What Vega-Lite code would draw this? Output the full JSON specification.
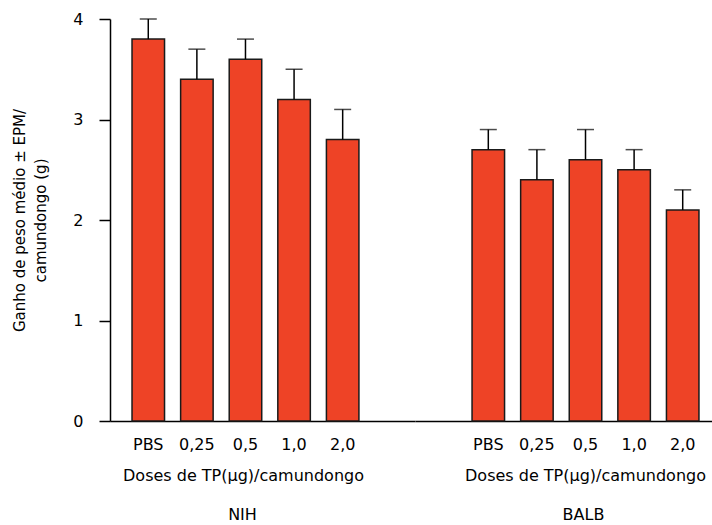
{
  "$schema": "https://vega.github.io/schema/vega-lite/v6.json",
  "background": "white",
  "padding": {"left": 12, "top": 11, "right": 0, "bottom": 0},
  "spacing": 0,
  "config": {
    "view": {"stroke": null},
    "font": "DejaVu Sans",
    "axis": {"labelFont": "DejaVu Sans", "titleFont": "DejaVu Sans", "labelColor": "#000", "titleColor": "#000", "domainColor": "#000", "tickColor": "#000", "grid": false, "titleFontWeight": "normal"},
    "title": {"font": "DejaVu Sans", "fontWeight": "normal", "color": "#000"}
  },
  "data": {"values": [
    {"group": "NIH", "dose": "PBS", "value": 3.8, "upper": 4.0},
    {"group": "NIH", "dose": "0,25", "value": 3.4, "upper": 3.7},
    {"group": "NIH", "dose": "0,5", "value": 3.6, "upper": 3.8},
    {"group": "NIH", "dose": "1,0", "value": 3.2, "upper": 3.5},
    {"group": "NIH", "dose": "2,0", "value": 2.8, "upper": 3.1},
    {"group": "BALB", "dose": "PBS", "value": 2.7, "upper": 2.9},
    {"group": "BALB", "dose": "0,25", "value": 2.4, "upper": 2.7},
    {"group": "BALB", "dose": "0,5", "value": 2.6, "upper": 2.9},
    {"group": "BALB", "dose": "1,0", "value": 2.5, "upper": 2.7},
    {"group": "BALB", "dose": "2,0", "value": 2.1, "upper": 2.3}
  ]},
  "resolve": {"scale": {"y": "independent", "x": "independent"}},
  "hconcat": [
    {
      "width": 305,
      "height": 402,
      "title": {"text": "NIH", "orient": "bottom", "fontSize": 16, "offset": 24, "dx": -20},
      "transform": [{"filter": "datum.group === 'NIH'"}],
      "encoding": {
        "x": {"field": "dose", "type": "nominal", "sort": ["PBS", "0,25", "0,5", "1,0", "2,0"],
          "scale": {"paddingInner": 0.331, "paddingOuter": 0.8035, "align": 0.282},
          "axis": {"title": "Doses de TP(µg)/camundongo", "titleX": 133, "labelAngle": 0, "ticks": false, "labelFontSize": 16, "titleFontSize": 16, "labelPadding": 15, "titlePadding": 15, "domainWidth": 1.5}}
      },
      "layer": [
        {"mark": {"type": "bar", "color": "#EE4326", "stroke": "#1a1a1a", "strokeWidth": 1.5},
         "encoding": {"y": {"field": "value", "type": "quantitative", "scale": {"domain": [0, 4]},
           "axis": {"title": ["Ganho de peso médio ± EPM/", "camundongo (g)"], "values": [0, 1, 2, 3, 4], "format": "d", "tickSize": 11, "tickWidth": 1.5, "domainWidth": 1.5, "labelFontSize": 16, "titleFontSize": 15, "titleLineHeight": 21, "labelPadding": 16, "titlePadding": 24}}}},
        {"mark": {"type": "rule", "color": "#000", "strokeWidth": 1.5},
         "encoding": {"y": {"field": "value", "type": "quantitative", "scale": {"domain": [0, 4]}}, "y2": {"field": "upper"}}},
        {"mark": {"type": "tick", "color": "#000", "thickness": 1.5, "size": 17},
         "encoding": {"y": {"field": "upper", "type": "quantitative", "scale": {"domain": [0, 4]}}}}
      ]
    },
    {
      "width": 297,
      "height": 402,
      "title": {"text": "BALB", "orient": "bottom", "fontSize": 16, "offset": 24, "dx": 20},
      "transform": [{"filter": "datum.group === 'BALB'"}],
      "encoding": {
        "x": {"field": "dose", "type": "nominal", "sort": ["PBS", "0,25", "0,5", "1,0", "2,0"],
          "scale": {"paddingInner": 0.331, "paddingOuter": 0.721, "align": 0.814},
          "axis": {"title": "Doses de TP(µg)/camundongo", "titleX": 170, "labelAngle": 0, "ticks": false, "labelFontSize": 16, "titleFontSize": 16, "labelPadding": 15, "titlePadding": 15, "domainWidth": 1.5}}
      },
      "layer": [
        {"mark": {"type": "bar", "color": "#EE4326", "stroke": "#1a1a1a", "strokeWidth": 1.5},
         "encoding": {"y": {"field": "value", "type": "quantitative", "scale": {"domain": [0, 4]}, "axis": null}}},
        {"mark": {"type": "rule", "color": "#000", "strokeWidth": 1.5},
         "encoding": {"y": {"field": "value", "type": "quantitative", "scale": {"domain": [0, 4]}, "axis": null}, "y2": {"field": "upper"}}},
        {"mark": {"type": "tick", "color": "#000", "thickness": 1.5, "size": 17},
         "encoding": {"y": {"field": "upper", "type": "quantitative", "scale": {"domain": [0, 4]}, "axis": null}}}
      ]
    }
  ]
}
